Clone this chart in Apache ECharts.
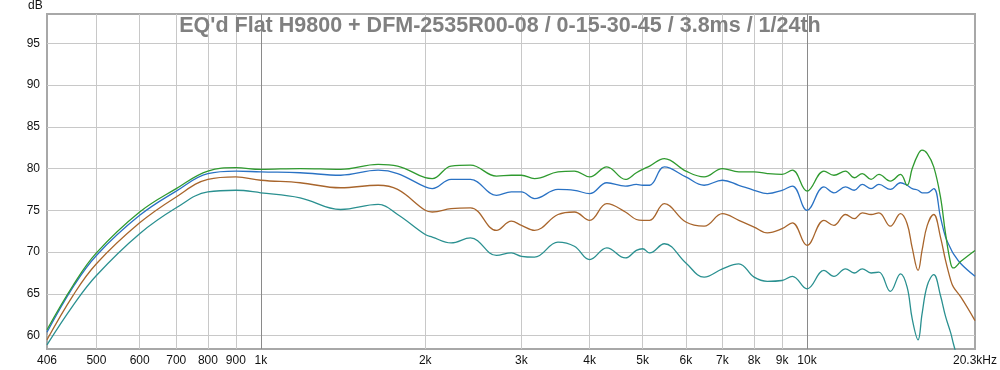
<!DOCTYPE html>
<html>
<head>
<meta charset="utf-8">
<script src="https://cdn.jsdelivr.net/npm/echarts@6/dist/echarts.min.js"></script>
<style>
html,body{margin:0;padding:0;background:#fff;}
#chart{width:1000px;height:370px;}
</style>
</head>
<body>
<div id="chart"></div>
<script>
// Frequencies (Hz) shared by all four curves
const freq = [406, 453, 500, 600, 700, 800, 900, 1000, 1180, 1400, 1640, 1780, 2000, 2060, 2230, 2420, 2700, 2875, 3000, 3170, 3500, 3750, 4000, 4300, 4650, 4870, 5000, 5150, 5480, 6000, 6480, 7000, 7500, 8000, 8460, 9000, 9400, 10000, 10740, 11200, 11760, 12200, 12620, 13100, 13540, 14210, 14830, 15250, 15580, 15970, 16240, 16600, 17060, 17550, 17930, 18330, 18540, 19130, 20300];

// SPL (dB) per curve: 0 / 15 / 30 / 45 degrees
const spl0 = [60.7, 66.0, 69.9, 74.8, 77.6, 79.7, 80.1, 79.9, 80.0, 79.9, 80.5, 80.3, 78.9, 78.8, 80.3, 80.4, 79.1, 79.2, 79.2, 78.8, 79.6, 79.7, 79.0, 80.2, 78.7, 79.5, 79.9, 80.3, 81.2, 79.7, 79.0, 80.0, 79.6, 79.6, 79.4, 79.3, 79.8, 77.3, 79.7, 79.2, 79.7, 78.9, 79.4, 78.7, 79.3, 78.5, 79.3, 78.0, 80.0, 81.7, 82.2, 81.8, 80.2, 76.6, 72.2, 68.6, 68.1, 68.9, 70.2];
const spl15 = [60.4, 65.8, 69.6, 74.4, 77.3, 79.4, 79.7, 79.6, 79.5, 79.2, 79.8, 79.4, 77.8, 77.6, 78.7, 78.7, 76.8, 77.2, 77.2, 76.4, 77.5, 77.4, 77.0, 78.3, 77.9, 78.1, 78.0, 78.0, 80.2, 79.0, 78.0, 78.6, 78.0, 77.4, 77.0, 77.4, 77.9, 75.0, 77.8, 77.1, 77.8, 77.4, 78.1, 77.6, 78.1, 77.5, 78.3, 78.0, 77.6, 77.4, 77.1, 77.1, 77.6, 74.2, 71.8, 70.4, 69.8, 68.6, 67.1];
const spl30 = [59.5, 64.8, 68.6, 73.5, 76.6, 78.7, 79.0, 78.6, 78.3, 77.7, 78.0, 77.5, 75.0, 74.8, 75.2, 75.3, 72.6, 73.7, 73.2, 72.6, 74.5, 74.8, 73.8, 75.8, 74.8, 73.9, 73.8, 73.8, 75.8, 73.6, 73.1, 74.6, 73.8, 73.0, 72.3, 72.8, 73.5, 70.8, 73.8, 73.2, 74.5, 74.0, 74.7, 74.5, 74.7, 73.1, 74.6, 73.4, 70.5, 67.8, 70.2, 73.2, 74.5, 71.8, 69.0, 66.6, 65.8, 64.6, 61.8];
const spl45 = [58.9, 63.6, 67.2, 72.2, 75.3, 77.2, 77.4, 77.1, 76.5, 75.1, 75.7, 74.5, 72.1, 71.8, 71.1, 71.7, 69.6, 69.9, 69.5, 69.4, 71.2, 70.7, 69.1, 70.5, 69.3, 70.2, 70.4, 69.9, 71.0, 68.7, 67.0, 68.0, 68.6, 67.0, 66.5, 66.6, 67.1, 65.6, 67.8, 67.1, 68.0, 67.5, 68.0, 67.5, 67.6, 65.3, 67.4, 65.8, 62.0, 59.5, 62.6, 66.0, 67.3, 64.8, 62.3, 60.3, 59.0, 56.0, 52.0];

const seriesNames = ['0°', '15°', '30°', '45°'];

// Axis ticks
const xTickValues = [406, 500, 600, 700, 800, 900, 1000, 2000, 3000, 4000, 5000, 6000, 7000, 8000, 9000, 10000, 20300];
const xTickLabels = ['406', '500', '600', '700', '800', '900', '1k', '2k', '3k', '4k', '5k', '6k', '7k', '8k', '9k', '10k', '20.3kHz'];
const xGridValues = [500, 600, 700, 800, 900, 1000, 2000, 3000, 4000, 5000, 6000, 7000, 8000, 9000, 10000];
const yTickValues = [60, 65, 70, 75, 80, 85, 90, 95];

const colors = ['#2f9a2f', '#2a72c4', '#a8652c', '#2a9090'];
const curves = [spl0, spl15, spl30, spl45];

const light = '#c8c8c8', dark = '#8a8a8a';
const xGridColors = xGridValues.map(v => (v === 1000 || v === 10000) ? dark : light);

const chart = echarts.init(document.getElementById('chart'), null, {renderer: 'canvas'});
const font = 'Liberation Sans, Arial, sans-serif';

const drawOrder = [3, 2, 1, 0];
chart.setOption({
  animation: false,
  backgroundColor: '#ffffff',
  title: {
    text: "EQ'd Flat H9800 + DFM-2535R00-08 / 0-15-30-45 / 3.8ms / 1/24th",
    left: 'center',
    top: 15,
    padding: 0,
    textStyle: {fontFamily: font, fontWeight: 'bold', fontSize: 21.5, color: '#808080'}
  },
  graphic: [{
    type: 'text', left: 28, top: 0,
    style: {text: 'dB', fontFamily: font, fontSize: 12, fill: '#111'}
  }],
  grid: {
    left: 47, right: 25, top: 14, bottom: 21,
    show: true, borderColor: '#a8a8a8', borderWidth: 2, backgroundColor: '#ffffff'
  },
  xAxis: {
    type: 'log', logBase: 10, min: 406, max: 20300,
    axisLine: {show: false},
    axisTick: {show: false, customValues: xGridValues},
    axisLabel: {
      customValues: xTickValues,
      formatter: v => {
        const i = xTickValues.findIndex(t => Math.abs(t - v) < 0.5);
        return i >= 0 ? xTickLabels[i] : '';
      },
      fontFamily: font, fontSize: 12, color: '#111', margin: 6
    },
    splitLine: {show: true, lineStyle: {color: xGridColors, width: 1}}
  },
  yAxis: {
    type: 'value', min: 58.4, max: 98.5,
    axisLine: {show: false},
    axisTick: {show: false, customValues: yTickValues},
    axisLabel: {customValues: yTickValues, fontFamily: font, fontSize: 12, color: '#111', margin: 7},
    splitLine: {show: true, lineStyle: {color: light, width: 1}}
  },
  series: drawOrder.map(k => ({
    name: seriesNames[k],
    type: 'line',
    data: freq.map((f, i) => [f, curves[k][i]]),
    showSymbol: false,
    smooth: 0.4,
    clip: true,
    lineStyle: {color: colors[k], width: 1.3},
    itemStyle: {color: colors[k]}
  }))
});
</script>
</body>
</html>
